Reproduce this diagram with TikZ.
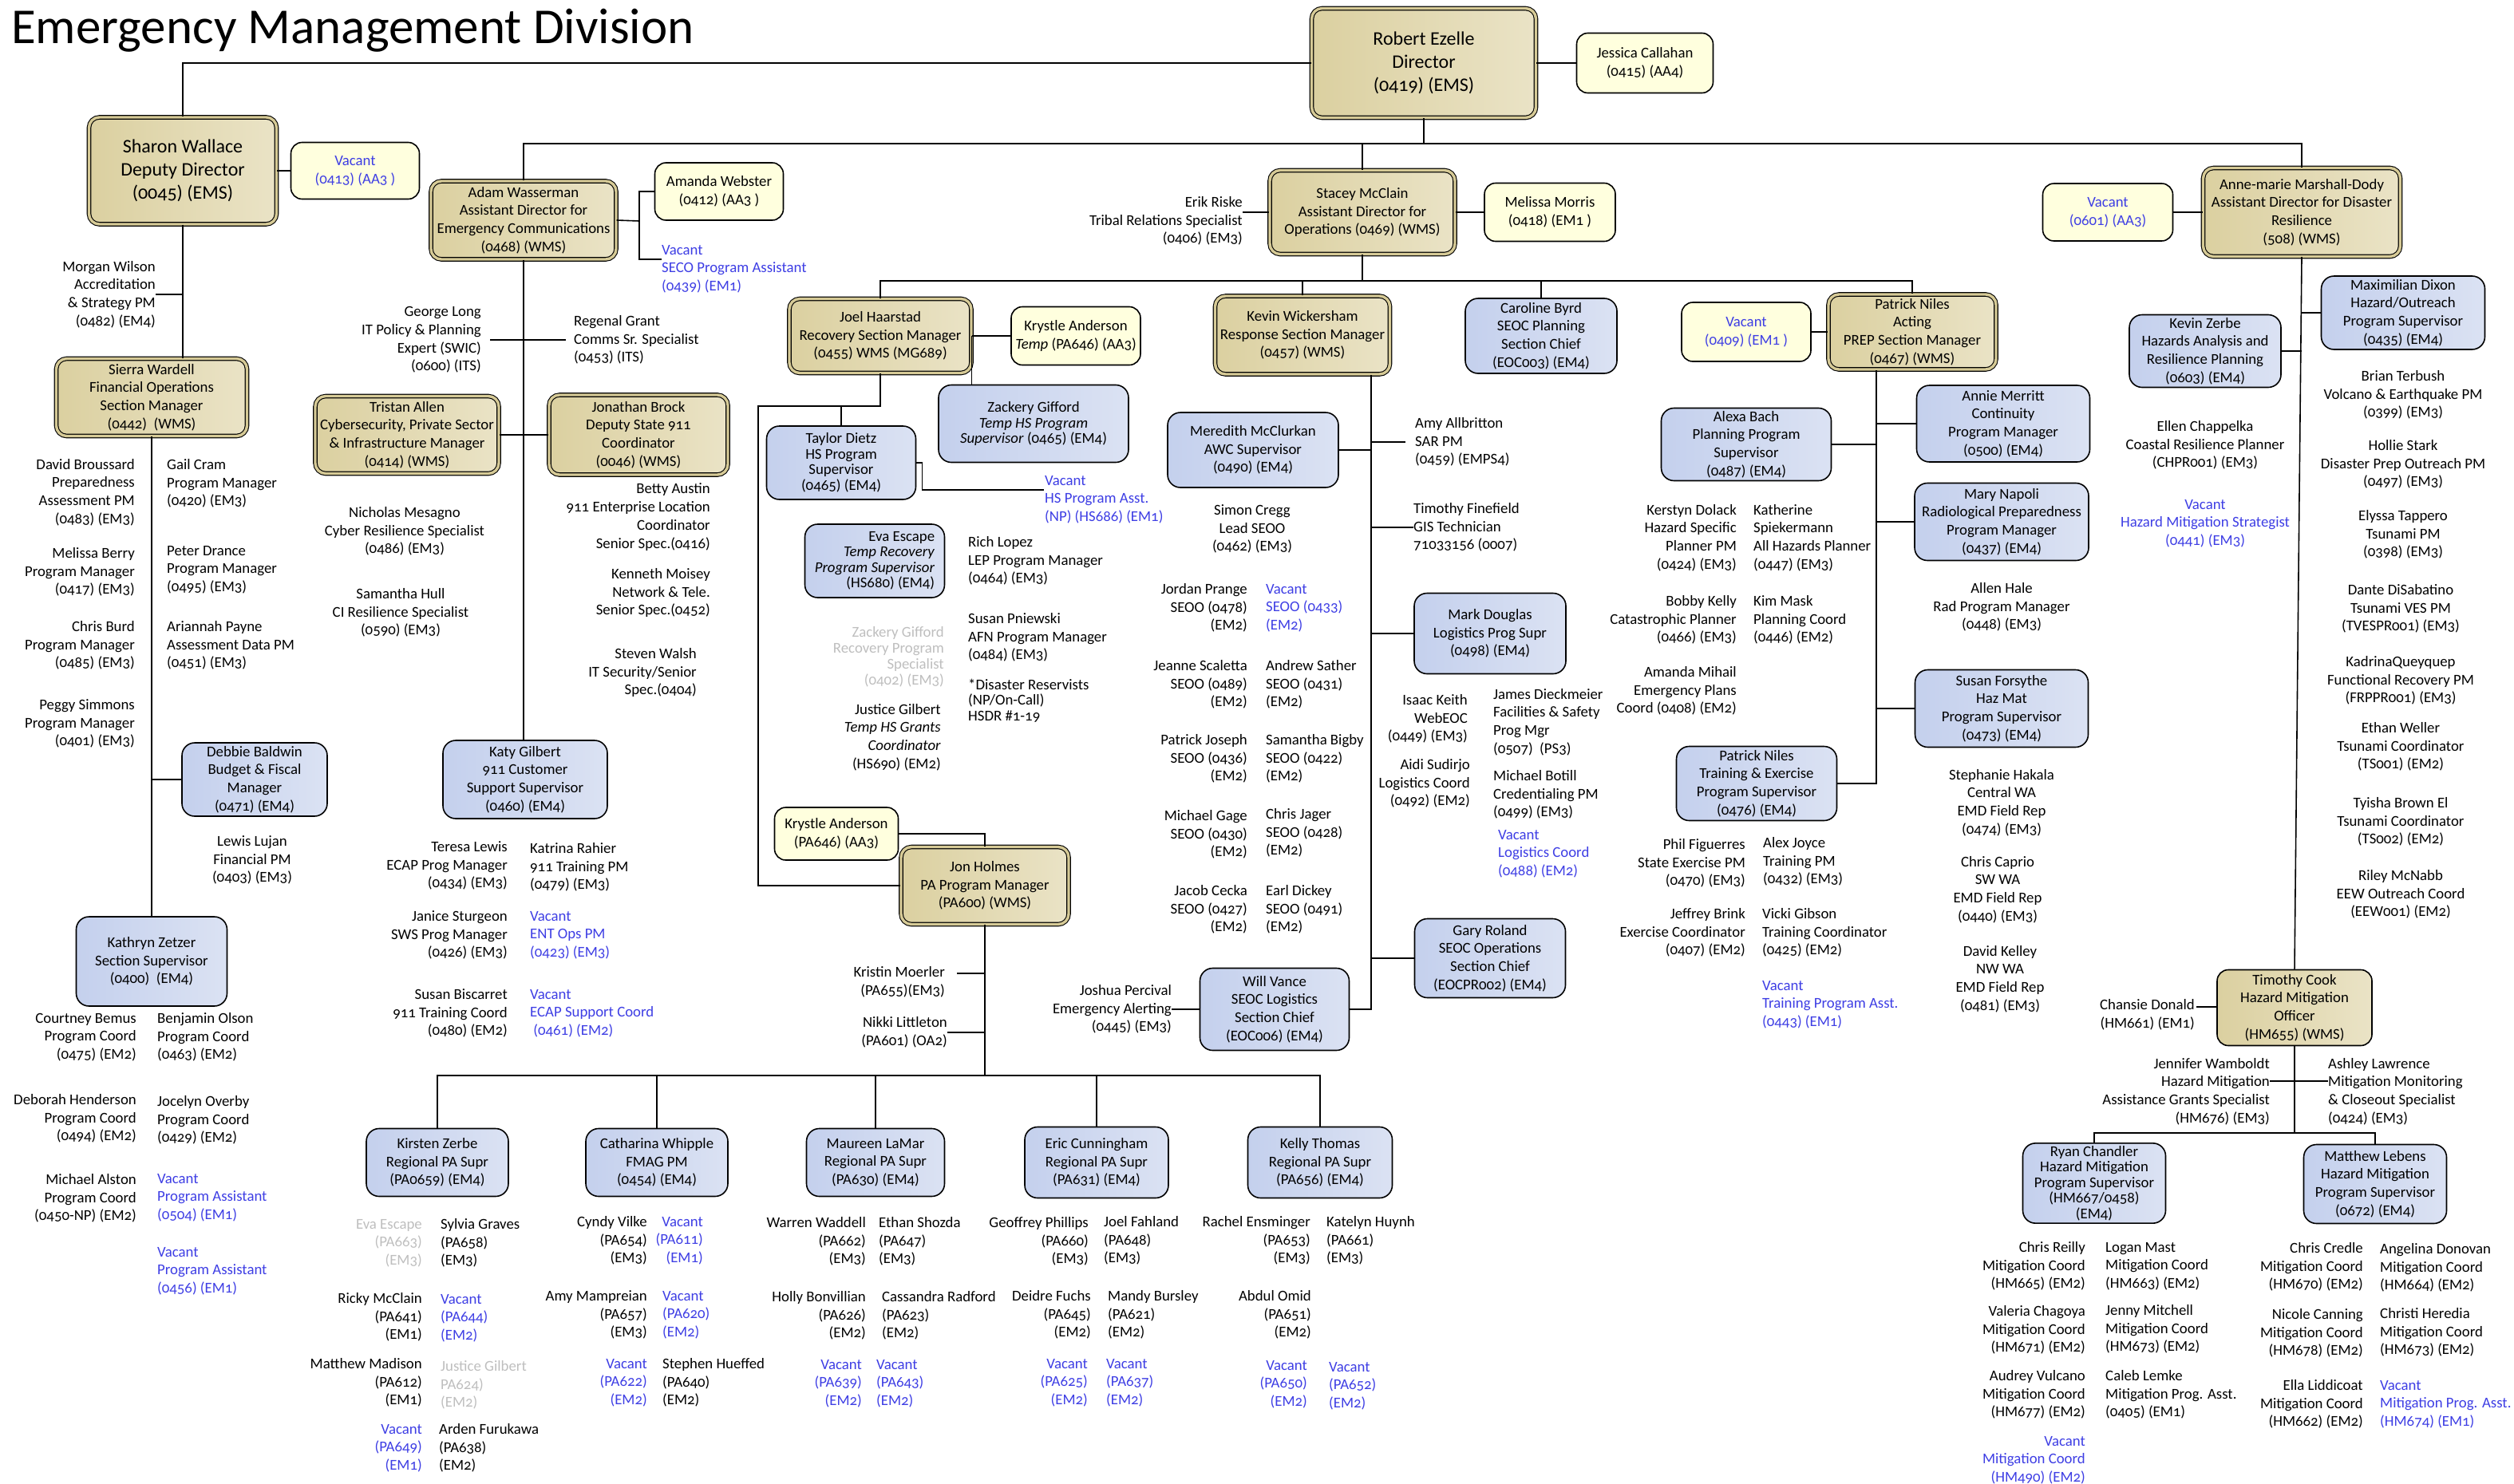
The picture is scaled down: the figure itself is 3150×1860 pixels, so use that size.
\documentclass[tikz,border=0pt]{standalone}
\usepackage{fontspec}
\setmainfont{Carlito}[Numbers=OldStyle]
\usepackage{tikz}

\definecolor{goldL}{RGB}{219,208,160}
\definecolor{goldR}{RGB}{234,227,198}
\definecolor{goldring}{RGB}{214,202,150}
\definecolor{paleyel}{RGB}{255,255,222}
\definecolor{blueL}{RGB}{196,208,237}
\definecolor{blueR}{RGB}{219,226,243}
\definecolor{vacblue}{RGB}{62,62,228}
\definecolor{gonegrey}{RGB}{190,190,190}

\newcommand\bigtxt{\fontsize{24}{29}\selectfont}
\newcommand\tighttxt{\fontsize{18.8}{19.5}\selectfont}

\tikzset{
    mgr/.style={draw=black, double=goldring, double distance=3.4pt, line width=1.1pt,
        rounded corners=13pt, left color=goldL, right color=goldR, align=center},
    hmo/.style={draw=black, line width=1.6pt, rounded corners=14pt,
        left color=goldL, right color=goldR, align=center},
    asst/.style={draw=black, line width=1.6pt, rounded corners=14pt, fill=paleyel, align=center},
    sup/.style={draw=black, line width=1.6pt, rounded corners=16pt,
        left color=blueL, right color=blueR, align=center},
    lblr/.style={anchor=east, align=right, inner sep=0pt},
    lbll/.style={anchor=west, align=left, inner sep=0pt},
    lblc/.style={align=center, inner sep=0pt},
    vac/.style={text=vacblue},
    gone/.style={text=gonegrey},
    link/.style={line width=1.6pt},
}

\begin{document}
\begin{tikzpicture}[x=1pt, y=-1pt, font=\fontsize{18.8}{22.7}\selectfont]
\useasboundingbox (0,0) rectangle (3150,1860);

\node[anchor=base west, inner sep=0pt, font=\fontsize{63}{70}\selectfont] (title) at (14,55) {Emergency Management Division};

% director and deputy
\node[mgr, minimum width=281pt, minimum height=137pt, font=\bigtxt] (ezelle) at (1784,79) {Robert Ezelle\\Director\\(0419) (EMS)};
\node[asst, minimum width=171pt, minimum height=75pt] (callahan) at (2061,79) {Jessica Callahan\\(0415) (AA4)};
\node[mgr, minimum width=235pt, minimum height=134pt, font=\bigtxt] (wallace) at (229,214) {Sharon Wallace\\Deputy Director\\(0045) (EMS)};
\node[asst, minimum width=161pt, minimum height=71pt, text=vacblue] (vac413) at (445,214) {Vacant\\(0413) (AA3 )};

% financial operations
\node[mgr, minimum width=239pt, minimum height=97pt] (wardell) at (190,498) {Sierra Wardell\\Financial Operations\\Section Manager\\(0442)~~(WMS)};
\node[lblr] (wilson) at (195,369) {Morgan Wilson\\Accreditation\\\& Strategy PM\\(0482) (EM4)};
\node[lblr] (broussard) at (169,617) {David Broussard\\Preparedness\\Assessment PM\\(0483) (EM3)};
\node[lblr] (berry) at (169,717) {Melissa Berry\\Program Manager\\(0417) (EM3)};
\node[lblr] (burd) at (169,809) {Chris Burd\\Program Manager\\(0485) (EM3)};
\node[lblr] (simmons) at (169,907) {Peggy Simmons\\Program Manager\\(0401) (EM3)};
\node[lbll] (cram) at (209,606) {Gail Cram\\Program Manager\\(0420) (EM3)};
\node[lbll] (drance) at (209,714) {Peter Drance\\Program Manager\\(0495) (EM3)};
\node[lbll] (payne) at (209,809) {Ariannah Payne\\Assessment Data PM\\(0451) (EM3)};
\node[sup, minimum width=182pt, minimum height=92pt] (baldwin) at (319,977) {Debbie Baldwin\\Budget \& Fiscal\\Manager\\(0471) (EM4)};
\node[lblc] (lujan) at (316,1078) {Lewis Lujan\\Financial PM\\(0403) (EM3)};
\node[sup, minimum width=189pt, minimum height=112pt] (zetzer) at (190,1205) {Kathryn Zetzer\\Section Supervisor\\(0400)~~(EM4)};
\node[lblr] (bemus) at (171,1300) {Courtney Bemus\\Program Coord\\(0475) (EM2)};
\node[lbll] (olson) at (197,1300) {Benjamin Olson\\Program Coord\\(0463) (EM2)};
\node[lblr] (henderson) at (171,1402) {Deborah Henderson\\Program Coord\\(0494) (EM2)};
\node[lbll] (overby) at (197,1404) {Jocelyn Overby\\Program Coord\\(0429) (EM2)};
\node[lblr] (alston) at (171,1502) {Michael Alston\\Program Coord\\(0450-NP) (EM2)};
\node[lbll,vac] (vac504) at (197,1501) {Vacant\\Program Assistant\\(0504) (EM1)};
\node[lbll,vac] (vac456) at (197,1593) {Vacant\\Program Assistant\\(0456) (EM1)};

% emergency communications
\node[mgr, minimum width=232pt, minimum height=98pt] (adam) at (656,276) {Adam Wasserman\\Assistant Director for\\Emergency Communications\\(0468) (WMS)};
\node[asst, minimum width=161pt, minimum height=72pt] (webster) at (901,240) {Amanda Webster\\(0412) (AA3 )};
\node[lbll,vac] (vacseco) at (829,337) {Vacant\\SECO Program Assistant\\(0439) (EM1)};
\node[lblr] (long) at (603,426) {George Long\\IT Policy \& Planning\\Expert (SWIC)\\(0600) (ITS)};
\node[lbll] (grant) at (719,426) {Regenal Grant\\Comms Sr. Specialist\\(0453) (ITS)};
\node[mgr, minimum width=230pt, minimum height=97pt] (allen) at (510,545) {Tristan Allen\\Cybersecurity, Private Sector\\\& Infrastructure Manager\\(0414) (WMS)};
\node[mgr, minimum width=224pt, minimum height=100pt] (brock) at (800,545) {Jonathan Brock\\Deputy State 911\\Coordinator\\(0046) (WMS)};
\node[lblc] (mesagno) at (507,666) {Nicholas Mesagno\\Cyber Resilience Specialist\\(0486) (EM3)};
\node[lblc] (hull) at (502,768) {Samantha Hull\\CI Resilience Specialist\\(0590) (EM3)};
\node[lblr] (austin) at (890,648) {Betty Austin\\911 Enterprise Location\\Coordinator\\Senior Spec.(0416)};
\node[lblr] (moisey) at (890,743) {Kenneth Moisey\\Network \& Tele.\\Senior Spec.(0452)};
\node[lblr] (walsh) at (873,843) {Steven Walsh\\IT Security/Senior\\Spec.(0404)};
\node[sup, minimum width=206pt, minimum height=98pt] (katy) at (658,977) {Katy Gilbert\\911 Customer\\Support Supervisor\\(0460) (EM4)};
\node[lblr] (lewis) at (636,1085) {Teresa Lewis\\ECAP Prog Manager\\(0434) (EM3)};
\node[lbll] (rahier) at (664,1087) {Katrina Rahier\\911 Training PM\\(0479) (EM3)};
\node[lblr] (sturgeon) at (636,1172) {Janice Sturgeon\\SWS Prog Manager\\(0426) (EM3)};
\node[lbll,vac] (vac423) at (664,1172) {Vacant\\ENT Ops PM\\(0423) (EM3)};
\node[lblr] (biscarret) at (636,1270) {Susan Biscarret\\911 Training Coord\\(0480) (EM2)};
\node[lbll,vac] (vac461) at (664,1270) {Vacant\\ECAP Support Coord\\\ (0461) (EM2)};

% operations
\node[mgr, minimum width=232pt, minimum height=105pt] (mcclain) at (1707,266) {Stacey McClain\\Assistant Director for\\Operations (0469) (WMS)};
\node[asst, minimum width=164pt, minimum height=73pt] (morris) at (1942,266) {Melissa Morris\\(0418) (EM1 )};
\node[lblr] (riske) at (1557,277) {Erik Riske\\Tribal Relations Specialist\\(0406) (EM3)};

% recovery
\node[mgr, minimum width=228pt, minimum height=93pt] (haarstad) at (1103,421) {Joel Haarstad\\Recovery Section Manager\\(0455) WMS (MG689)};
\node[asst, minimum width=162pt, minimum height=73pt] (anderson1) at (1348,421) {Krystle Anderson\\\textit{Temp} (PA646) (AA3)};
\node[sup, minimum width=238pt, minimum height=97pt, font=\tighttxt] (gifford) at (1295,531) {Zackery Gifford\\\textit{Temp HS Program}\\\textit{Supervisor} (0465) (EM4)};
\node[sup, minimum width=187pt, minimum height=92pt, font=\tighttxt] (dietz) at (1054,580) {Taylor Dietz\\HS Program\\Supervisor\\(0465) (EM4)};
\node[lbll,vac] (vachs) at (1309,626) {Vacant\\HS Program Asst.\\(NP) (HS686) (EM1)};
\node[sup, minimum width=175pt, minimum height=92pt, font=\tighttxt, align=right] (eva) at (1096,703) {Eva Escape\\\textit{Temp Recovery}\\\textit{Program Supervisor}\\(HS680) (EM4)};
\node[lbll] (lopez) at (1213,703) {Rich Lopez\\LEP Program Manager\\(0464) (EM3)};
\node[lbll] (pniewski) at (1213,799) {Susan Pniewski\\AFN Program Manager\\(0484) (EM3)};
\node[lbll, font=\tighttxt] (reservists) at (1213,878) {*Disaster Reservists\\(NP/On-Call)\\HSDR \#1-19};
\node[lblr, gone, font=\fontsize{18.8}{20}\selectfont] (giffordz) at (1183,823) {Zackery Gifford\\Recovery Program\\Specialist\\(0402) (EM3)};
\node[lblr] (gilbertj) at (1179,924) {Justice Gilbert\\\textit{Temp HS Grants}\\\textit{Coordinator}\\(HS690) (EM2)};
\node[asst, minimum width=155pt, minimum height=66pt] (anderson2) at (1048,1045) {Krystle Anderson\\(PA646) (AA3)};
\node[mgr, minimum width=210pt, minimum height=97pt] (holmes) at (1234,1110) {Jon Holmes\\PA Program Manager\\(PA600) (WMS)};
\node[lblr] (moerler) at (1184,1231) {Kristin Moerler\\(PA655)(EM3)};
\node[lblr] (littleton) at (1187,1294) {Nikki Littleton\\(PA601) (OA2)};

% public assistance teams
\node[sup, minimum width=178pt, minimum height=85pt] (zerbek) at (548,1457) {Kirsten Zerbe\\Regional PA Supr\\(PA0659) (EM4)};
\node[sup, minimum width=178pt, minimum height=85pt] (whipple) at (823,1457) {Catharina Whipple\\FMAG PM\\(0454) (EM4)};
\node[sup, minimum width=173pt, minimum height=85pt] (lamar) at (1097,1457) {Maureen LaMar\\Regional PA Supr\\(PA630) (EM4)};
\node[sup, minimum width=180pt, minimum height=89pt] (cunningham) at (1374,1457) {Eric Cunningham\\Regional PA Supr\\(PA631) (EM4)};
\node[sup, minimum width=181pt, minimum height=89pt] (thomas) at (1654,1457) {Kelly Thomas\\Regional PA Supr\\(PA656) (EM4)};

\node[lblr,gone] (escapepa) at (529,1558) {Eva Escape\\(PA663)\\(EM3)};
\node[lbll] (graves) at (552,1558) {Sylvia Graves\\(PA658)\\(EM3)};
\node[lblr] (mcclainr) at (529,1651) {Ricky McClain\\(PA641)\\(EM1)};
\node[lbll,vac] (vac644) at (552,1652) {Vacant\\(PA644)\\(EM2)};
\node[lblr] (madison) at (529,1733) {Matthew Madison\\(PA612)\\(EM1)};
\node[lbll,gone] (gilbertpa) at (552,1736) {Justice Gilbert\\PA624)\\(EM2)};
\node[lblr,vac] (vac649) at (529,1815) {Vacant\\(PA649)\\(EM1)};
\node[lbll] (furukawa) at (550,1815) {Arden Furukawa\\(PA638)\\(EM2)};

\node[lblr] (vilke) at (811,1555) {Cyndy Vilke\\(PA654)\\(EM3)};
\node[lblr,vac] (vac611) at (881,1555) {Vacant\\(PA611)\\(EM1)};
\node[lblr] (mampreian) at (811,1648) {Amy Mampreian\\(PA657)\\(EM3)};
\node[lbll,vac] (vac620) at (830,1648) {Vacant\\(PA620)\\(EM2)};
\node[lblr,vac] (vac622) at (811,1733) {Vacant\\(PA622)\\(EM2)};
\node[lbll] (hueffed) at (830,1733) {Stephen Hueffed\\(PA640)\\(EM2)};

\node[lblr] (waddell) at (1085,1556) {Warren Waddell\\(PA662)\\(EM3)};
\node[lbll] (shozda) at (1101,1556) {Ethan Shozda\\(PA647)\\(EM3)};
\node[lblr] (bonvillian) at (1085,1649) {Holly Bonvillian\\(PA626)\\(EM2)};
\node[lbll] (radford) at (1105,1649) {Cassandra Radford\\(PA623)\\(EM2)};
\node[lblr,vac] (vac639) at (1080,1734) {Vacant\\(PA639)\\(EM2)};
\node[lbll,vac] (vac643) at (1098,1734) {Vacant\\(PA643)\\(EM2)};

\node[lblr] (phillips) at (1364,1556) {Geoffrey Phillips\\(PA660)\\(EM3)};
\node[lbll] (fahland) at (1383,1555) {Joel Fahland\\(PA648)\\(EM3)};
\node[lblr] (fuchs) at (1367,1648) {Deidre Fuchs\\(PA645)\\(EM2)};
\node[lbll] (bursley) at (1388,1648) {Mandy Bursley\\(PA621)\\(EM2)};
\node[lblr,vac] (vac625) at (1363,1733) {Vacant\\(PA625)\\(EM2)};
\node[lbll,vac] (vac637) at (1386,1733) {Vacant\\(PA637)\\(EM2)};

\node[lblr] (ensminger) at (1642,1555) {Rachel Ensminger\\(PA653)\\(EM3)};
\node[lbll] (huynh) at (1662,1555) {Katelyn Huynh\\(PA661)\\(EM3)};
\node[lblr] (omid) at (1643,1648) {Abdul Omid\\(PA651)\\(EM2)};
\node[lblr,vac] (vac650) at (1638,1735) {Vacant\\(PA650)\\(EM2)};
\node[lbll,vac] (vac652) at (1665,1737) {Vacant\\(PA652)\\(EM2)};

% response
\node[mgr, minimum width=219pt, minimum height=98pt] (wickersham) at (1632,420) {Kevin Wickersham\\Response Section Manager\\(0457) (WMS)};
\node[sup, minimum width=214pt, minimum height=94pt] (mcclurkan) at (1570,564) {Meredith McClurkan\\AWC Supervisor\\(0490) (EM4)};
\node[lbll] (allbritton) at (1773,554) {Amy Allbritton\\SAR PM\\(0459) (EMPS4)};
\node[lbll] (finefield) at (1771,661) {Timothy Finefield\\GIS Technician\\71033156 (0007)};
\node[lblc] (cregg) at (1569,663) {Simon Cregg\\Lead SEOO\\(0462) (EM3)};
\node[lblr] (prange) at (1563,762) {Jordan Prange\\SEOO (0478)\\(EM2)};
\node[lblr] (scaletta) at (1563,858) {Jeanne Scaletta\\SEOO (0489)\\(EM2)};
\node[lblr] (joseph) at (1563,951) {Patrick Joseph\\SEOO (0436)\\(EM2)};
\node[lblr] (gage) at (1563,1046) {Michael Gage\\SEOO (0430)\\(EM2)};
\node[lblr] (cecka) at (1563,1140) {Jacob Cecka\\SEOO (0427)\\(EM2)};
\node[lbll,vac] (vac433) at (1586,762) {Vacant\\SEOO (0433)\\(EM2)};
\node[lbll] (sather) at (1586,858) {Andrew Sather\\SEOO (0431)\\(EM2)};
\node[lbll] (bigby) at (1586,951) {Samantha Bigby\\SEOO (0422)\\(EM2)};
\node[lbll] (jager) at (1586,1044) {Chris Jager\\SEOO (0428)\\(EM2)};
\node[lbll] (dickey) at (1586,1140) {Earl Dickey\\SEOO (0491)\\(EM2)};
\node[sup, minimum width=190pt, minimum height=101pt] (douglas) at (1867,794) {Mark Douglas\\Logistics Prog Supr\\(0498) (EM4)};
\node[lblr] (keith) at (1839,901) {Isaac Keith\\WebEOC\\(0449) (EM3)};
\node[lblr] (sudirjo) at (1842,982) {Aidi Sudirjo\\Logistics Coord\\(0492) (EM2)};
\node[lbll] (dieckmeier) at (1871,905) {James Dieckmeier\\Facilities \& Safety\\Prog Mgr\\(0507)~~(PS3)};
\node[lbll] (botill) at (1871,996) {Michael Botill\\Credentialing PM\\(0499) (EM3)};
\node[lbll,vac] (vac488) at (1877,1070) {Vacant\\Logistics Coord\\(0488) (EM2)};
\node[sup, minimum width=189pt, minimum height=99pt] (roland) at (1867,1201) {Gary Roland\\SEOC Operations\\Section Chief\\(EOCPR002) (EM4)};
\node[sup, minimum width=187pt, minimum height=103pt] (vance) at (1597,1265) {Will Vance\\SEOC Logistics\\Section Chief\\(EOC006) (EM4)};
\node[lblr] (percival) at (1468,1265) {Joshua Percival\\Emergency Alerting\\(0445) (EM3)};

% planning and preparedness
\node[sup, minimum width=190pt, minimum height=94pt] (byrd) at (1931,421) {Caroline Byrd\\SEOC Planning\\Section Chief\\(EOC003) (EM4)};
\node[asst, minimum width=162pt, minimum height=74pt, text=vacblue] (vac409) at (2188,416) {Vacant\\(0409) (EM1 )};
\node[mgr, minimum width=210pt, minimum height=94pt] (nilesp) at (2396,416) {Patrick Niles\\Acting\\PREP Section Manager\\(0467) (WMS)};
\node[sup, minimum width=213pt, minimum height=91pt] (bach) at (2188,557) {Alexa Bach\\Planning Program\\Supervisor\\(0487) (EM4)};
\node[sup, minimum width=217pt, minimum height=96pt] (merritt) at (2510,531) {Annie Merritt\\Continuity\\Program Manager\\(0500) (EM4)};
\node[sup, minimum width=218pt, minimum height=97pt] (napoli) at (2508,654) {Mary Napoli\\Radiological Preparedness\\Program Manager\\(0437) (EM4)};
\node[lblc] (hale) at (2508,761) {Allen Hale\\Rad Program Manager\\(0448) (EM3)};
\node[sup, minimum width=217pt, minimum height=97pt] (forsythe) at (2508,888) {Susan Forsythe\\Haz Mat\\Program Supervisor\\(0473) (EM4)};
\node[lblc] (hakala) at (2508,1006) {Stephanie Hakala\\Central WA\\EMD Field Rep\\(0474) (EM3)};
\node[lblc] (caprio) at (2503,1115) {Chris Caprio\\SW WA\\EMD Field Rep\\(0440) (EM3)};
\node[lblc] (kelley) at (2506,1227) {David Kelley\\NW WA\\EMD Field Rep\\(0481) (EM3)};
\node[lblr] (dolack) at (2176,674) {Kerstyn Dolack\\Hazard Specific\\Planner PM\\(0424) (EM3)};
\node[lbll] (spiekermann) at (2197,674) {Katherine\\Spiekermann\\All Hazards Planner\\(0447) (EM3)};
\node[lblr] (kelly) at (2176,777) {Bobby Kelly\\Catastrophic Planner\\(0466) (EM3)};
\node[lbll] (mask) at (2197,777) {Kim Mask\\Planning Coord\\(0446) (EM2)};
\node[lblr] (mihail) at (2176,866) {Amanda Mihail\\Emergency Plans\\Coord (0408) (EM2)};
\node[sup, minimum width=201pt, minimum height=93pt] (nilest) at (2201,982) {Patrick Niles\\Training \& Exercise\\Program Supervisor\\(0476) (EM4)};
\node[lblr] (figuerres) at (2187,1082) {Phil Figuerres\\State Exercise PM\\(0470) (EM3)};
\node[lbll] (joyce) at (2209,1080) {Alex Joyce\\Training PM\\(0432) (EM3)};
\node[lblr] (brink) at (2187,1169) {Jeffrey Brink\\Exercise Coordinator\\(0407) (EM2)};
\node[lbll] (gibson) at (2208,1169) {Vicki Gibson\\Training Coordinator\\(0425) (EM2)};
\node[lbll,vac] (vac443) at (2208,1259) {Vacant\\Training Program Asst.\\(0443) (EM1)};

% disaster resilience
\node[mgr, minimum width=247pt, minimum height=111pt] (marshall) at (2884,266) {Anne-marie Marshall-Dody\\Assistant Director for Disaster\\Resilience\\(508) (WMS)};
\node[asst, minimum width=163pt, minimum height=72pt, text=vacblue] (vac601) at (2641,266) {Vacant\\(0601) (AA3)};
\node[sup, minimum width=205pt, minimum height=92pt] (dixon) at (3011,392) {Maximilian Dixon\\Hazard/Outreach\\Program Supervisor\\(0435) (EM4)};
\node[sup, minimum width=190pt, minimum height=91pt] (zerbev) at (2763,440) {Kevin Zerbe\\Hazards Analysis and\\Resilience Planning\\(0603) (EM4)};
\node[lblc] (chappelka) at (2763,558) {Ellen Chappelka\\Coastal Resilience Planner\\(CHPR001) (EM3)};
\node[lblc,vac] (vac441) at (2763,656) {Vacant\\Hazard Mitigation Strategist\\(0441) (EM3)};
\node[lblc] (terbush) at (3011,495) {Brian Terbush\\Volcano \& Earthquake PM\\(0399) (EM3)};
\node[lblc] (stark) at (3011,582) {Hollie Stark\\Disaster Prep Outreach PM\\(0497) (EM3)};
\node[lblc] (tappero) at (3011,670) {Elyssa Tappero\\Tsunami PM\\(0398) (EM3)};
\node[lblc] (disabatino) at (3008,763) {Dante DiSabatino\\Tsunami VES PM\\(TVESPR001) (EM3)};
\node[lblc] (queyquep) at (3008,853) {KadrinaQueyquep\\Functional Recovery PM\\(FRPPR001) (EM3)};
\node[lblc] (weller) at (3008,936) {Ethan Weller\\Tsunami Coordinator\\(TS001) (EM2)};
\node[lblc] (brownel) at (3008,1030) {Tyisha Brown El\\Tsunami Coordinator\\(TS002) (EM2)};
\node[lblc] (mcnabb) at (3008,1121) {Riley McNabb\\EEW Outreach Coord\\(EEW001) (EM2)};

% hazard mitigation
\node[hmo, minimum width=194pt, minimum height=95pt] (cook) at (2875,1263) {Timothy Cook\\Hazard Mitigation\\Officer\\(HM655) (WMS)};
\node[lblr] (donald) at (2750,1272) {Chansie Donald\\(HM661) (EM1)};
\node[lblr] (wamboldt) at (2844,1368) {Jennifer Wamboldt\\Hazard Mitigation\\Assistance Grants Specialist\\(HM676) (EM3)};
\node[lbll] (lawrence) at (2917,1368) {Ashley Lawrence\\Mitigation Monitoring\\\& Closeout Specialist\\(0424) (EM3)};
\node[sup, minimum width=179pt, minimum height=98pt, font=\tighttxt] (chandler) at (2624,1483) {Ryan Chandler\\Hazard Mitigation\\Program Supervisor\\(HM667/0458)\\(EM4)};
\node[sup, minimum width=179pt, minimum height=99pt] (lebens) at (2976,1484) {Matthew Lebens\\Hazard Mitigation\\Program Supervisor\\(0672) (EM4)};
\node[lblr] (reilly) at (2613,1587) {Chris Reilly\\Mitigation Coord\\(HM665) (EM2)};
\node[lbll] (mast) at (2638,1587) {Logan Mast\\Mitigation Coord\\(HM663) (EM2)};
\node[lblr] (chagoya) at (2613,1667) {Valeria Chagoya\\Mitigation Coord\\(HM671) (EM2)};
\node[lbll] (mitchell) at (2638,1666) {Jenny Mitchell\\Mitigation Coord\\(HM673) (EM2)};
\node[lblr] (vulcano) at (2613,1748) {Audrey Vulcano\\Mitigation Coord\\(HM677) (EM2)};
\node[lbll] (lemke) at (2638,1748) {Caleb Lemke\\Mitigation Prog. Asst.\\(0405) (EM1)};
\node[lblr,vac] (vac490) at (2613,1830) {Vacant\\Mitigation Coord\\(HM490) (EM2)};
\node[lblr] (credle) at (2961,1588) {Chris Credle\\Mitigation Coord\\(HM670) (EM2)};
\node[lbll] (donovan) at (2982,1589) {Angelina Donovan\\Mitigation Coord\\(HM664) (EM2)};
\node[lblr] (canning) at (2961,1671) {Nicole Canning\\Mitigation Coord\\(HM678) (EM2)};
\node[lbll] (heredia) at (2982,1670) {Christi Heredia\\Mitigation Coord\\(HM673) (EM2)};
\node[lblr] (liddicoat) at (2961,1760) {Ella Liddicoat\\Mitigation Coord\\(HM662) (EM2)};
\node[lbll,vac] (vac674) at (2982,1760) {Vacant\\Mitigation Prog. Asst.\\(HM674) (EM1)};

% junction points
\coordinate (dirbus) at (1784,180);
\coordinate (adamtap) at (801,277);
\coordinate (secotap) at (829,325);
\coordinate (opsbus) at (1707,352);
\coordinate (recbus) at (1103,509);
\coordinate (recleft) at (950,509);
\coordinate (hstap) at (1308,614);
\coordinate (pabus) at (1234,1348);
\coordinate (moerlertap) at (1199,1220);
\coordinate (resptop) at (1718,470);
\coordinate (preptop) at (2351,464);
\coordinate (hmbus) at (2875,1420);
\coordinate (donaldtap) at (2752,1262);
\coordinate (wamboldttap) at (2844,1355);
\coordinate (lawrencetap) at (2917,1355);

% director level
\draw[link] (ezelle.west) -| (wallace.north);
\draw[link] (ezelle.east) -- (callahan.west);
\draw[link] (ezelle.south) -- (dirbus);
\draw[link] (adam.north) |- (dirbus) -| (marshall.north);
\draw[link] (mcclain.north) -- (mcclain.north |- dirbus);

% deputy director
\draw[link] (wallace.east) -- (vac413.west);
\draw[link] (wallace.south) -- (wallace.south |- wardell.north);
\draw[link] (wilson.east) -- (wilson.east -| wallace.south);
\draw[link] (wardell.south) -- (wardell.south |- zetzer.north);
\draw[link] (baldwin.west) -- (baldwin.west -| wardell.south);

% emergency communications
\draw[link] (adam.east) -- (adamtap);
\draw[link] (webster.west) -| (adamtap) |- (secotap);
\draw[link] (adam.south) -- (adam.south |- katy.north);
\draw[link, shorten <=11pt, shorten >=10pt] (long.east) -- (grant.west);
\draw[link] (allen.east) -- (brock.west);

% operations
\draw[link] (riske.east |- mcclain.west) -- (mcclain.west);
\draw[link] (mcclain.east) -- (morris.west);
\draw[link] (mcclain.south) -- (opsbus);
\draw[link] (haarstad.north) |- (opsbus) -| (nilesp.north);
\draw[link] (wickersham.north) -- (wickersham.north |- opsbus);
\draw[link] (byrd.north) -- (byrd.north |- opsbus);

% recovery
\draw[link] (haarstad.east) -- (anderson1.west);
\draw[link] (haarstad.east) -- (haarstad.east |- gifford.north);
\draw[link] (haarstad.south) -- (recbus) -| (dietz.north);
\draw[link] (recbus) -- (recleft) |- (holmes.west);
\draw[link] (dietz.east) -- ++(7,0) |- (hstap);
\draw[link] (anderson2.east) -| (holmes.north);

% public assistance
\draw[link] (holmes.south) -- (pabus);
\draw[link] (zerbek.north) |- (pabus) -| (thomas.north);
\draw[link] (whipple.north) -- (whipple.north |- pabus);
\draw[link] (lamar.north) -- (lamar.north |- pabus);
\draw[link] (cunningham.north) -- (cunningham.north |- pabus);
\draw[link] (moerlertap) -- (moerlertap -| holmes.south);
\draw[link] (littleton.east) -- (littleton.east -| holmes.south);

% response
\draw[link] (resptop) |- (vance.east);
\draw[link] (mcclurkan.east) -- (mcclurkan.east -| resptop);
\draw[link, shorten <=12pt] (allbritton.west) -- (allbritton.west -| resptop);
\draw[link] (finefield.west) -- (finefield.west -| resptop);
\draw[link] (douglas.west) -- (douglas.west -| resptop);
\draw[link] (roland.west) -- (roland.west -| resptop);
\draw[link] (percival.east) -- (vance.west);

% preparedness
\draw[link] (vac409.east) -- (nilesp.west);
\draw[link] (preptop) |- (nilest.east);
\draw[link] (bach.east) -- (bach.east -| preptop);
\draw[link] (merritt.west) -- (merritt.west -| preptop);
\draw[link] (napoli.west) -- (napoli.west -| preptop);
\draw[link] (forsythe.west) -- (forsythe.west -| preptop);

% disaster resilience
\draw[link] (vac601.east) -- (marshall.west);
\draw[link] (marshall.south) -- (cook.north);
\draw[link] (dixon.west) -- (dixon.west -| marshall.south);
\draw[link] (zerbev.east) -- (zerbev.east -| marshall.south);

% hazard mitigation
\draw[link] (donaldtap) -- (donaldtap -| cook.west);
\draw[link] (cook.south) -- (hmbus);
\draw[link] (chandler.north) |- (hmbus) -| (lebens.north);
\draw[link] (wamboldttap) -- (lawrencetap);

\end{tikzpicture}
\end{document}
